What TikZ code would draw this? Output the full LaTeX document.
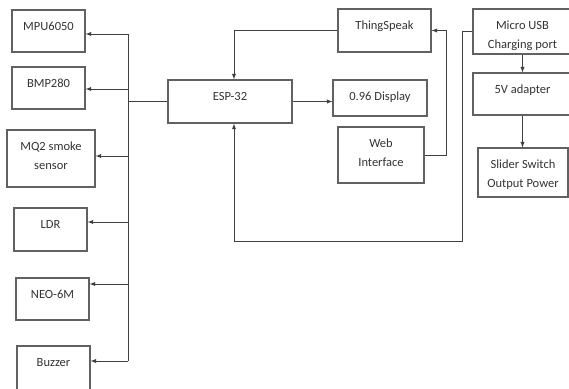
\documentclass[tikz,border=0pt]{standalone}
\usepackage{fontspec}
\setmainfont{Carlito}
\usetikzlibrary{arrows}

\begin{document}
\begin{tikzpicture}[x=1pt, y=-1pt, >=latex,
        caja/.style n args={2}{draw=black!62, line width=1.1pt, minimum width=#1,
            minimum height=#2, inner sep=0pt},
        texto/.style={anchor=north, yshift=-12.5pt, inner sep=0pt, align=center,
            text=black!80, font=\fontsize{12.5}{18.5}\selectfont},
        linea/.style={draw=black!75, line width=0.9pt},
        flecha/.style={linea, ->}]
        % Marco de la figura
        \useasboundingbox (0,0) rectangle (569,388);
        \clip (0,0) rectangle (569,388);
        % Sensores y actuadores (columna izquierda)
        \node[caja={73}{42}, label={[texto]north:MPU6050}] (mpu) at (48.5,31) {};
        \node[caja={73}{42}, label={[texto]north:BMP280}] (bmp) at (48.5,88) {};
        \node[caja={88}{57}, label={[texto]north:MQ2 smoke\\sensor}] (mq2) at (51,158.5) {};
        \node[caja={73}{43}, label={[texto]north:LDR}] (ldr) at (50.5,229.5) {};
        \node[caja={73}{42}, label={[texto]north:NEO-6M}] (neo) at (52.5,299) {};
        \node[caja={73}{46}, label={[texto]north:Buzzer}] (buz) at (53.5,369) {};
        % Microcontrolador y salidas
        \node[caja={124}{43}, label={[texto]north:ESP-32}] (esp) at (230,101.5) {};
        \node[caja={94}{36}, label={[texto]north:0.96 Display}] (disp) at (380,98) {};
        \node[caja={93}{43}, label={[texto]north:ThingSpeak}] (ts) at (384.5,30.5) {};
        \node[caja={86}{56}, label={[texto]north:Web\\Interface}] (web) at (381,155) {};
        % Alimentacion (columna derecha)
        \node[caja={99}{45}, label={[texto]north:Micro USB\\Charging port}] (usb) at (522.5,31.5) {};
        \node[caja={99}{42}, label={[texto]north:5V adapter}] (v5) at (522.5,94) {};
        \node[caja={90}{49}, label={[texto]north:Slider Switch\\Output Power}] (sw) at (523,172.5) {};

        % Bus de la izquierda
        \coordinate (b1) at (128,34);
        \coordinate (b2) at (128,89);
        \coordinate (b3) at (128,156);
        \coordinate (b4) at (128,222);
        \coordinate (b5) at (128,284);
        \coordinate (b6) at (128,361);
        \draw[linea] (b1) -- (b6);
        \draw[linea] (esp.west) -- (esp.west -| b1);
        \draw[flecha] (b1) -- (b1 -| mpu.east);
        \draw[flecha] (b2) -- (b2 -| bmp.east);
        \draw[flecha] (b3) -- (b3 -| mq2.east);
        \draw[flecha] (b4) -- (b4 -| ldr.east);
        \draw[flecha] (b5) -- (b5 -| neo.east);
        \draw[flecha] (b6) -- (b6 -| buz.east);

        % Conexiones del ESP-32
        \draw[flecha] (esp.east) -- (esp.east -| disp.west);
        \draw[flecha] (ts.west) -| ([xshift=4pt]esp.north);
        \draw[flecha] (web.east) -- ++(22,0) |- (ts.east);

        % Alimentacion
        \coordinate (lazo) at (462,241);
        \draw[flecha] (usb.west) -| (lazo) -| ([xshift=4pt]esp.south);
        \draw[flecha] (usb.south) -- (v5.north);
        \draw[flecha] (v5.south) -- (v5.south |- sw.north);
    \end{tikzpicture}
\end{document}
